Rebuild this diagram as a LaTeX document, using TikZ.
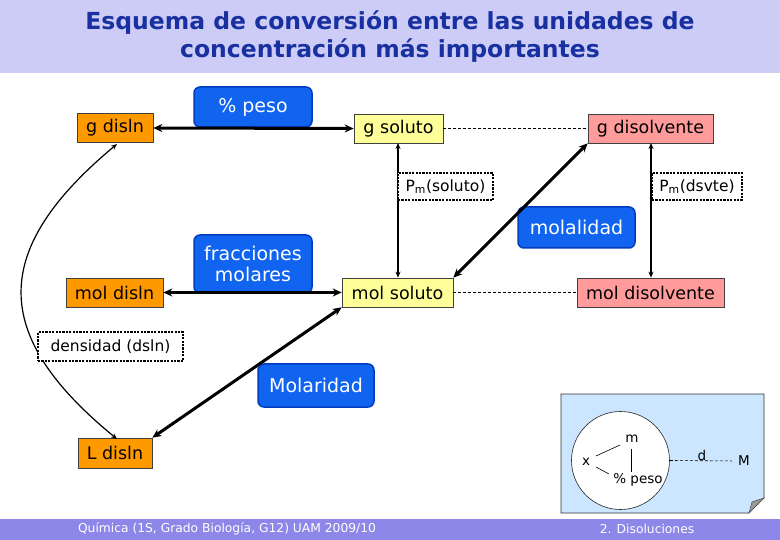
\documentclass[tikz,border=0pt]{standalone}
\usepackage{fontspec}
\setmainfont{DejaVu Sans}
\usetikzlibrary{arrows.meta}
\definecolor{headbg}{RGB}{204,204,247}
\definecolor{footbg}{RGB}{140,135,232}
\definecolor{titleblue}{RGB}{24,48,160}
\definecolor{orangeF}{RGB}{255,153,0}
\definecolor{yellowF}{RGB}{255,255,153}
\definecolor{pinkF}{RGB}{255,155,155}
\definecolor{blueF}{RGB}{16,100,240}
\definecolor{blueD}{RGB}{0,60,190}
\definecolor{panelF}{RGB}{204,230,255}
\begin{document}
\begin{tikzpicture}[x=1pt,y=-1pt,
  box/.style={draw=black!75, line width=0.6pt, minimum height=29pt, inner sep=0pt,
    font=\fontsize{17.5}{20}\selectfont},
  orng/.style={box, fill=orangeF},
  yell/.style={box, fill=yellowF},
  pink/.style={box, fill=pinkF},
  bluebox/.style={draw=blueD, fill=blueF, rounded corners=6pt, line width=1.5pt,
    text=white, inner sep=0pt, align=center, font=\fontsize{19}{21}\selectfont},
  dotbox/.style={draw=black, fill=white, line width=2.4pt, dash pattern=on 2.2pt off 1.2pt,
    inner sep=0pt, minimum height=27pt, font=\fontsize{15.5}{17}\selectfont},
  thick arrow/.style={line width=3pt, {Stealth[length=9pt,width=8pt]}-{Stealth[length=9pt,width=8pt]}},
  thin arrow/.style={line width=1.2pt, {Stealth[length=6pt,width=5pt]}-{Stealth[length=6pt,width=5pt]}},
  dashline/.style={line width=0.7pt, dash pattern=on 3pt off 2pt},
  small/.style={font=\fontsize{13.5}{15}\selectfont, inner sep=0pt}
]
\useasboundingbox (0,0) rectangle (780,540);
% header and footer
\fill[headbg] (0,0) rectangle (780,73);
\fill[footbg] (0,519) rectangle (780,540);
\node[text=titleblue, align=center, font=\bfseries\fontsize{23.5}{28}\selectfont] (title) at (390,37)
  {Esquema de conversión entre las unidades de\\concentración más importantes};
\node[text=white, font=\fontsize{12.3}{14}\selectfont] (foot1) at (227,529) {Química (1S, Grado Biología, G12) UAM 2009/10};
\node[text=white, font=\fontsize{12.3}{14}\selectfont] (foot2) at (647,529) {2. Disoluciones};

% blue concept boxes
\node[bluebox, minimum width=118pt, minimum height=40pt] (peso) at (253,107) {\% peso};
\node[bluebox, minimum width=118pt, minimum height=58pt] (frac) at (253,264) {fracciones\\molares};
\node[bluebox, minimum width=117pt, minimum height=41pt] (molal) at (576.5,227.5) {molalidad};
\node[bluebox, minimum width=116pt, minimum height=43pt] (molar) at (316,385.5) {Molaridad};

% quantity boxes
\node[orng, minimum width=76pt] (gdisln) at (115,128) {g disln};
\node[yell, minimum width=89pt] (gsol) at (398.5,128.5) {g soluto};
\node[pink, minimum width=125pt] (gdis) at (650.5,128.5) {g disolvente};
\node[orng, minimum width=97pt] (moldisln) at (114.5,292.5) {mol disln};
\node[yell, minimum width=111pt] (molsol) at (397.5,292.5) {mol soluto};
\node[pink, minimum width=147pt] (moldis) at (650.5,292.5) {mol disolvente};
\node[orng, minimum width=74pt, minimum height=30pt] (Ldisln) at (115,453) {L disln};

% connectors
\draw[thick arrow] (gdisln.east) -- (gsol.west);
\draw[thick arrow] (moldisln.east) -- (molsol.west);
\draw[dashline] (gsol.east) -- (gdis.west);
\draw[dashline] (molsol.east) -- (moldis.west);
\draw[thin arrow] (398,143) coordinate (gs1) -- (gs1 |- molsol.north);
\draw[thin arrow] (651,143) coordinate (gd1) -- (gd1 |- moldis.north);
\draw[thick arrow] (gdis.south west) -- (molsol.north east);
\draw[thick arrow] (molsol.south west) -- (Ldisln.north east);
\draw[thin arrow] (117,144) coordinate (cA) .. controls (-10,250) and (-10,335) .. (117,439) coordinate (cB);

% dotted labels
\node[dotbox, minimum width=95pt] (pmsol) at (445.5,186.5) {P\textsubscript{m}(soluto)};
\node[dotbox, minimum width=90pt] (pmdis) at (697,186.5) {P\textsubscript{m}(dsvte)};
\node[dotbox, minimum width=145pt, minimum height=29pt] (dens) at (110.5,346.5) {densidad (dsln)};

% bottom-right panel
\draw[fill=panelF, draw=black!80, line width=0.6pt] (561,394) -- (764,394) -- (764,498) -- (749,513) -- (561,513) -- cycle;
\draw[fill=black!40, draw=black!70, line width=0.5pt] (764,498) -- (749,513) -- (752,502) -- cycle;
\node[circle, draw=black!85, fill=white, line width=0.6pt, minimum size=98pt, inner sep=0pt] (circ) at (620.5,460.5) {};
\node[small] (m) at (632,439) {m};
\node[small] (xx) at (586,462) {x};
\node[small] (pp) at (638,480) {\% peso};
\node[small] (M) at (744,461) {M};
\draw[line width=0.6pt] (596,456) coordinate (l1) -- (620,445) coordinate (l2);
\draw[line width=0.6pt] (596,467) coordinate (l3) -- (609,474) coordinate (l4);
\draw[line width=0.6pt] (631,449) coordinate (l5) -- (631,472) coordinate (l6);
\draw[dashline, line width=0.6pt, shorten >=6pt] (circ.east) -- (M.west);
\node[small, anchor=base] (d) at (702,460) {d};
\end{tikzpicture}
\end{document}
